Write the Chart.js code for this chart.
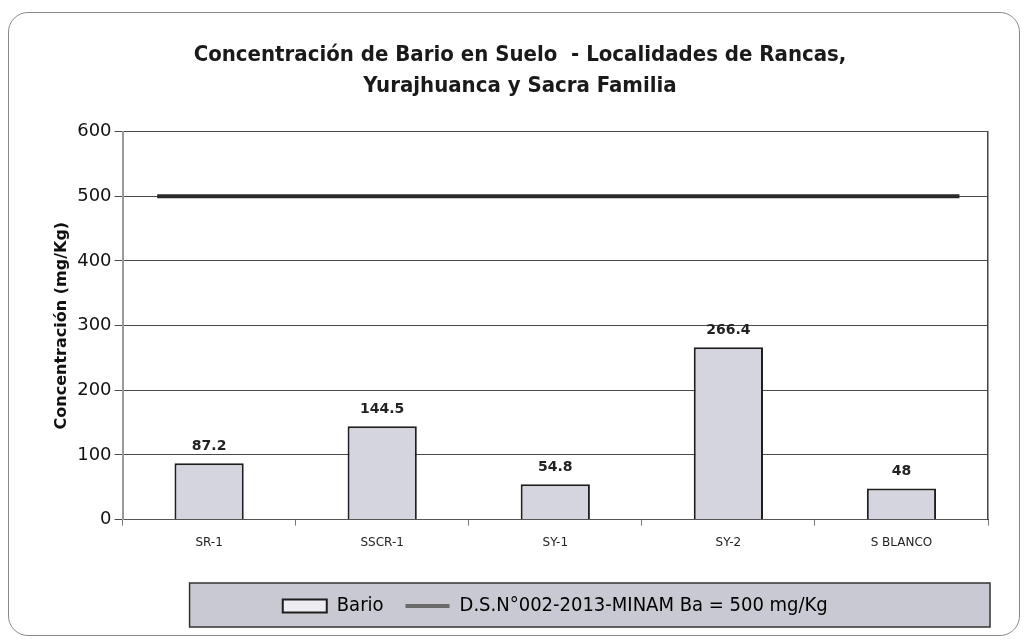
<!DOCTYPE html>
<html>
<head>
<meta charset="utf-8">
<script src="https://cdn.jsdelivr.net/npm/chart.js@4/dist/chart.umd.min.js"></script>
<style>
  body { margin: 0; background: #fff; }
  #frame { position: absolute; left: 8px; top: 12px; width: 1010px; height: 622px;
           border: 1px solid #8a8a8a; border-radius: 20px; }
  #bariumChart { position: absolute; left: 0; top: 0; }
</style>
</head>
<body>
<div id="frame"></div>
<canvas id="bariumChart" width="1024" height="642"></canvas>
<script>
// sample points
let stations = ["SR-1", "SSCR-1", "SY-1", "SY-2", "S BLANCO"];
let bario = [87.2, 144.5, 54.8, 266.4, 48];

// limit line (D.S. N°002-2013-MINAM)
let limitValue = 500;
let limitSpan = [0.04, 0.967];

let yTicks = [0, 100, 200, 300, 400, 500, 600];

let narrowFont = "'DejaVu Sans Condensed', 'DejaVu Sans', sans-serif";

// value labels above the bars
let barLabels = {
    id: "barLabels",
    afterDatasetsDraw(chart) {
        let ctx = chart.ctx;
        let meta = chart.getDatasetMeta(0);
        ctx.save();
        ctx.font = "bold 14px 'DejaVu Sans', sans-serif";
        ctx.fillStyle = "#222";
        ctx.textAlign = "center";
        ctx.textBaseline = "bottom";
        meta.data.forEach(function(bar, i) {
            ctx.fillText(String(bario[i]), bar.x, bar.y - 10);
        });
        ctx.restore();
    },
};

// grey box behind the legend
let legendBox = {
    id: "legendBox",
    beforeDraw(chart) {
        let lg = chart.legend;
        let area = chart.chartArea;
        if (!lg) return;
        let ctx = chart.ctx;
        let left = area.left + 67;
        let right = area.right + 2;
        let top = lg.top + 9;
        let h = 44;
        ctx.save();
        ctx.fillStyle = "#c9c9d3";
        ctx.strokeStyle = "#333";
        ctx.lineWidth = 1.5;
        ctx.fillRect(left, top, right - left, h);
        ctx.strokeRect(left, top, right - left, h);
        ctx.restore();
    },
};

let chartData = {
    labels: stations,
    datasets: [{
        type: "bar",
        label: "Bario",
        data: bario,
        backgroundColor: "#d5d5e0",
        borderColor: "#1e1e1e",
        borderWidth: 2,
        grouped: false,
        barPercentage: 0.4,
        categoryPercentage: 1,
        order: 2,
    }, {
        type: "line",
        label: "D.S.N°002-2013-MINAM Ba = 500 mg/Kg",
        data: limitSpan.map(function(x) { return { x: x, y: limitValue }; }),
        xAxisID: "x2",
        borderColor: "#2a2a2a",
        backgroundColor: "#2a2a2a",
        borderWidth: 4,
        pointRadius: 0,
        order: 1,
    }, ],
};

let chartOptions = {
    responsive: false,
    animation: false,
    layout: {
        padding: { left: 52, right: 36, top: 18, bottom: 16 },
    },
    plugins: {
        title: {
            display: true,
            text: ["Concentración de Bario en Suelo  - Localidades de Rancas,", "Yurajhuanca y Sacra Familia"],
            color: "#1a1a1a",
            font: { family: narrowFont, size: 22, weight: "bold", lineHeight: 1.4 },
            padding: { top: 22, bottom: 30 },
        },
        legend: {
            position: "bottom",
            fullSize: false,
            labels: {
                color: "#111",
                font: { family: narrowFont, size: 20 },
                padding: 22,
                usePointStyle: true,
                pointStyleWidth: 44,
                boxHeight: 13,
                generateLabels: function(chart) {
                    return [{
                        text: "Bario",
                        fillStyle: "#ececf2",
                        strokeStyle: "#1e1e1e",
                        lineWidth: 2,
                        pointStyle: "rect",
                        datasetIndex: 0,
                    }, {
                        text: chartData.datasets[1].label,
                        fillStyle: "#6a6a6a",
                        strokeStyle: "#6a6a6a",
                        lineWidth: 4,
                        pointStyle: "line",
                        datasetIndex: 1,
                    }, ];
                },
            },
        },
        tooltip: { enabled: false },
    },
    scales: {
        x: {
            type: "category",
            afterFit: function(axis) {
                axis.height += 14;
            },
            grid: {
                offset: true,
                drawOnChartArea: false,
                color: "#777",
                tickLength: 6,
            },
            border: { color: "#555" },
            ticks: {
                color: "#222",
                font: { family: "'DejaVu Sans', sans-serif", size: 12 },
                padding: 10,
            },
        },
        x2: {
            type: "linear",
            display: false,
            offset: false,
            min: 0,
            max: 1,
        },
        y: {
            min: 0,
            max: 600,
            afterBuildTicks: function(axis) {
                axis.ticks = yTicks.map(function(v) { return { value: v }; });
            },
            grid: {
                color: "#4a4a4a",
                lineWidth: 1,
                tickLength: 8,
            },
            border: { color: "#999", width: 2 },
            ticks: {
                color: "#111",
                font: { family: "'DejaVu Sans', sans-serif", size: 18 },
                padding: 3,
            },
            title: {
                display: true,
                text: "Concentración (mg/Kg)",
                color: "#111",
                font: { family: "'DejaVu Sans', sans-serif", size: 16, weight: "bold" },
                padding: { top: 0, bottom: 3 },
            },
        },
        yRight: {
            position: "right",
            min: 0,
            max: 600,
            grid: { drawOnChartArea: false, drawTicks: false },
            border: { color: "#444", width: 1.5 },
            ticks: { display: false },
        },
    },
};

let barCanvas = document.getElementById("bariumChart").getContext("2d");
new Chart(barCanvas, {
    type: "bar",
    data: chartData,
    options: chartOptions,
    plugins: [barLabels, legendBox],
});
</script>
</body>
</html>
